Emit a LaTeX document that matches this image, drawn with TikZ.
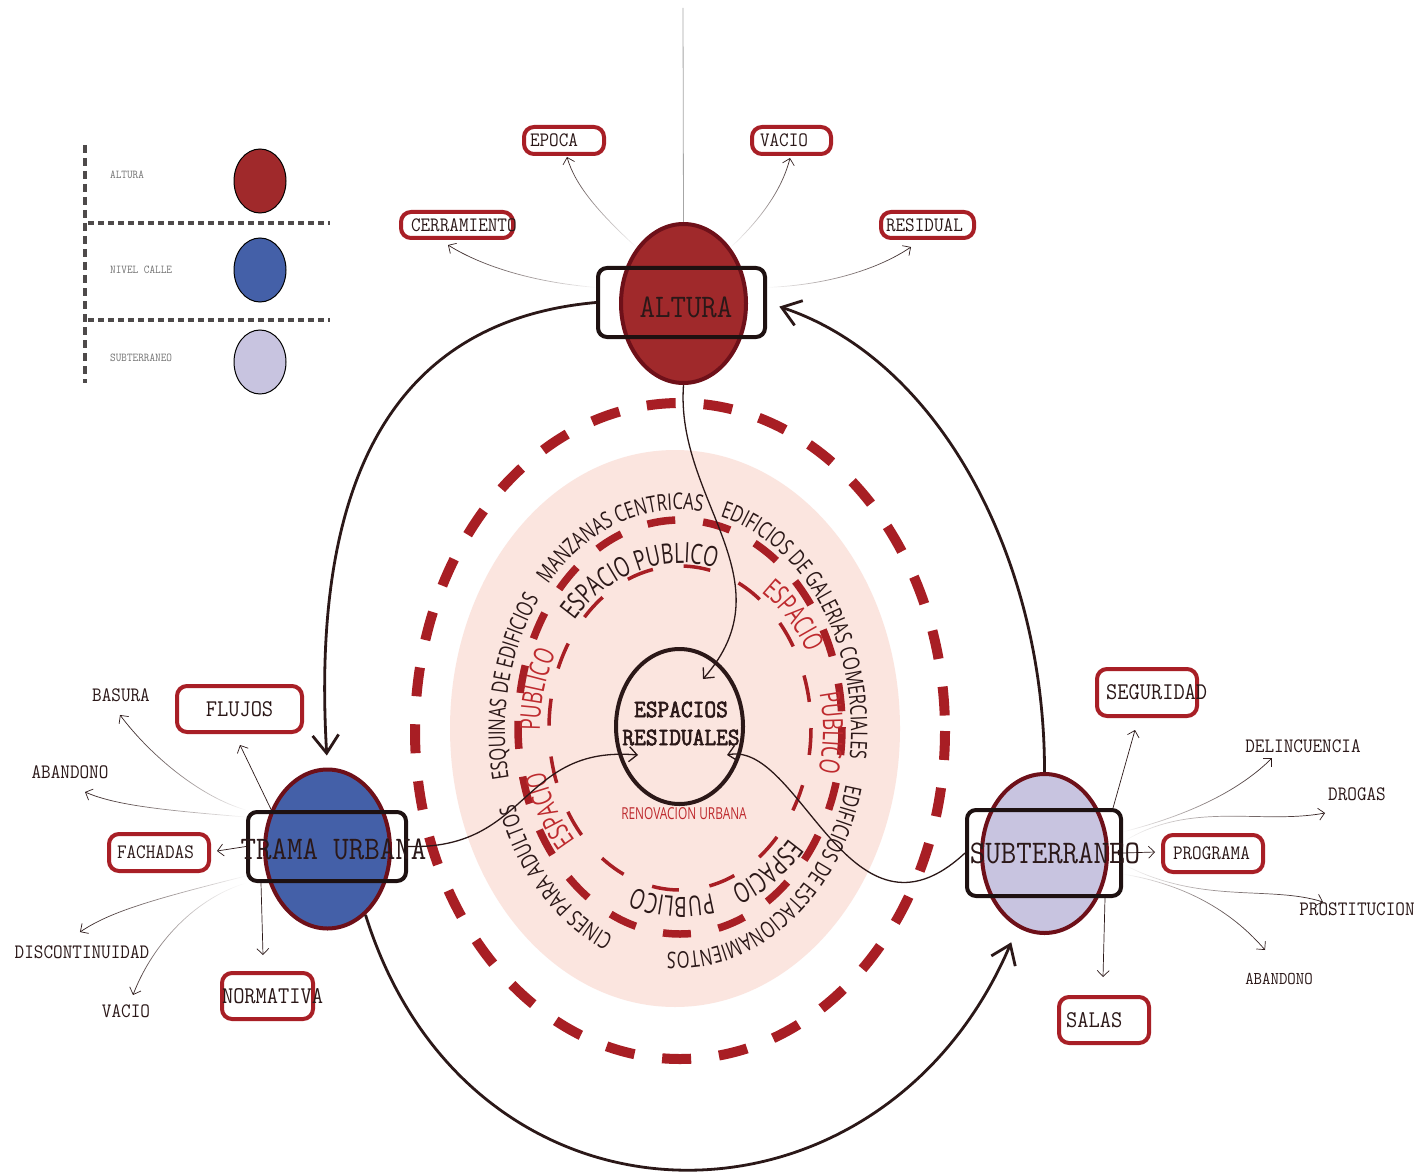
\documentclass[tikz,border=0pt]{standalone}
\usepackage{fontspec}
\usetikzlibrary{arrows.meta,shapes.geometric,decorations.text,fadings}
\newfontfamily\labelfont[FakeStretch=0.91]{Latin Modern Mono}
\newfontfamily\heavylabel[FakeStretch=0.91, FakeBold=2.5]{Latin Modern Mono}
\newfontfamily\outerfont[FakeStretch=0.72]{Open Sans}
\newfontfamily\innerfont[FakeStretch=0.68]{Open Sans}
\newcommand\outerring{\outerfont\fontsize{23}{23}\selectfont}
\newcommand\innerring{\innerfont\fontsize{28}{28}\selectfont}
\uchyph=0

\definecolor{alturared}{HTML}{A0292B}
\definecolor{rimred}{HTML}{6E1019}
\definecolor{calleblue}{HTML}{4460A8}
\definecolor{sublilac}{HTML}{C8C4E0}
\definecolor{boxred}{HTML}{A81F26}
\definecolor{ringred}{HTML}{A81E24}
\definecolor{blush}{HTML}{FBE5DF}
\definecolor{ink}{HTML}{2B1818}
\definecolor{redink}{HTML}{BE2A2E}
\definecolor{legendgray}{HTML}{4E4A4A}

\tikzset{
  levelnode/.style={ellipse, draw=rimred, line width=4pt, minimum width=125pt, minimum height=159pt, inner sep=0pt},
  levelbox/.style={draw=ink!70!black, line width=4pt, rounded corners=9pt, inner sep=0pt},
  leveltext/.style={font=\labelfont\fontsize{33}{33}\selectfont, text=ink, inner sep=0pt},
  legendnode/.style={ellipse, draw=black, line width=1pt, minimum width=52pt, minimum height=64pt, inner sep=0pt},
  legendtext/.style={anchor=west, inner sep=2pt, font=\labelfont\fontsize{12}{12}\selectfont, text=black!55},
  legenddash/.style={draw=legendgray, line width=4pt, dash pattern=on 5.5pt off 4.5pt},
  labbox/.style={draw=boxred, line width=4pt, rounded corners=10pt, fill=white, inner ysep=0pt, align=left, text=ink, font=\labelfont\fontsize{20.5}{20.5}\selectfont},
  biglab/.style={font=\labelfont\fontsize{24}{24}\selectfont},
  labtext/.style={inner sep=2pt, text=ink, font=\labelfont\fontsize{20.5}{20.5}\selectfont},
  bigarrow/.style={draw=ink, line width=2.8pt, -{Straight Barb[length=18pt,width=26pt]}},
  midarrow/.style={draw=ink, line width=1.3pt, -{Straight Barb[length=8pt,width=15pt]}},
  satarrow/.style={draw=ink, line width=0.7pt, -{Straight Barb[length=6pt,width=12pt]}},
  ringtext/.style={decorate, decoration={text along path, text align=center, text color=#1}}
}

\begin{document}
\begin{tikzpicture}[x=1pt, y=-1pt]
\fill[white] (0,0) rectangle (1418,1174);
\useasboundingbox (0,0) rectangle (1418,1174);

\draw[legenddash, dash pattern=on 8pt off 5pt] (85,145) -- (85,383);
\draw[legenddash] (88,223) -- (330,223);
\draw[legenddash] (88,320) -- (330,320);
\node[legendnode, fill=alturared] (legaltura) at (260,181) {};
\node[legendnode, fill=calleblue] (legcalle) at (260,270) {};
\node[legendnode, fill=sublilac] (legsub) at (260,362) {};
\node[legendtext] (legalturatext) at (108,175) {ALTURA};
\node[legendtext] (legcalletext) at (108,270) {NIVEL CALLE};
\node[legendtext] (legsubtext) at (108,358) {SUBTERRANEO};

\fill[blush] (675,728.5) ellipse [x radius=225, y radius=278.5];
\draw[ringred, line width=10pt, dash pattern=on 29pt off 28pt] (680,731) ellipse [x radius=265, y radius=328];
\draw[ringred, line width=7.5pt, dash pattern=on 28pt off 28pt] (680,727) ellipse [x radius=162, y radius=207];
\draw[ringred, line width=3.5pt, dash pattern=on 27pt off 31pt] (680,728) ellipse [x radius=131, y radius=162];

\path[ringtext=ink, shift={(678,731)}, decoration={text={|\outerring|MANZANAS CENTRICAS}}]
  (206:173 and 221) arc[start angle=206, end angle=296, x radius=173, y radius=221];
\path[ringtext=ink, shift={(678,731)}, decoration={text={|\outerring|EDIFICIOS DE GALERIAS COMERCIALES}}]
  (258:173 and 221) arc[start angle=258, end angle=388, x radius=173, y radius=221];
\path[ringtext=ink, shift={(678,731)}, decoration={text={|\outerring|EDIFICIOS DE ESTACIONAMIENTOS}}]
  (-4:173 and 221) arc[start angle=-4, end angle=116, x radius=173, y radius=221];
\path[ringtext=ink, shift={(678,731)}, decoration={text={|\outerring|CINES PARA ADULTOS}}]
  (89:173 and 221) arc[start angle=89, end angle=179, x radius=173, y radius=221];
\path[ringtext=ink, shift={(678,731)}, decoration={text={|\outerring|ESQUINAS DE EDIFICIOS}}]
  (148:173 and 221) arc[start angle=148, end angle=238, x radius=173, y radius=221];

\path[ringtext=ink, shift={(681.5,730)}, decoration={text={|\innerring|ESPACIO PUBLICO}}]
  (208:141.5 and 167) arc[start angle=208, end angle=298, x radius=141.5, y radius=167];
\path[ringtext=redink, shift={(681.5,730)}, decoration={text={|\innerring|ESPACIO}}]
  (287.5:141.5 and 167) arc[start angle=287.5, end angle=347.5, x radius=141.5, y radius=167];
\path[ringtext=redink, shift={(681.5,730)}, decoration={text={|\innerring|PUBLICO}}]
  (-29:141.5 and 167) arc[start angle=-29, end angle=31, x radius=141.5, y radius=167];
\path[ringtext=ink, shift={(681.5,730)}, decoration={text={|\innerring|ESPACIO}}]
  (26:141.5 and 167) arc[start angle=26, end angle=86, x radius=141.5, y radius=167];
\path[ringtext=ink, shift={(681.5,730)}, decoration={text={|\innerring|PUBLICO}}]
  (63.5:141.5 and 167) arc[start angle=63.5, end angle=123.5, x radius=141.5, y radius=167];
\path[ringtext=redink, shift={(681.5,730)}, decoration={text={|\innerring|ESPACIO}}]
  (121.5:141.5 and 167) arc[start angle=121.5, end angle=181.5, x radius=141.5, y radius=167];
\path[ringtext=redink, shift={(681.5,730)}, decoration={text={|\innerring|PUBLICO}}]
  (164:141.5 and 167) arc[start angle=164, end angle=224, x radius=141.5, y radius=167];

\node[ellipse, draw=ink, line width=4pt, minimum width=127pt, minimum height=155pt, inner sep=0pt] (espacios) at (679.5,726.5) {};
\node[font=\heavylabel\fontsize{25}{28}\selectfont, text=ink, align=center, inner sep=0pt] (espaciostext) at (681,723.5) {ESPACIOS\\RESIDUALES};
\node[font=\outerfont\fontsize{16.5}{16.5}\selectfont, text=redink, inner sep=0pt] (renovacion) at (684,814) {RENOVACION URBANA};

\node[levelnode, fill=alturared] (altura) at (683.5,303.5) {};
\node[levelbox, minimum width=167pt, minimum height=69pt] (alturabox) at (681.5,302.5) {};
\node[levelnode, fill=calleblue] (trama) at (327.5,849) {};
\node[levelbox, minimum width=158pt, minimum height=69pt] (tramabox) at (327,846.5) {};
\node[levelnode, fill=sublilac] (subt) at (1044.5,853.5) {};
\node[levelbox, minimum width=154pt, minimum height=86pt] (subtbox) at (1044,853) {};

\node[labbox, text width=68pt, inner xsep=6pt, minimum height=27pt] (epoca) at (564,140.5) {EPOCA};
\node[labbox, text width=63pt, inner xsep=8pt, minimum height=27pt] (vacion) at (791.5,140.5) {VACIO};
\node[labbox, text width=92pt, inner xsep=10pt, minimum height=26pt] (cerramiento) at (457,225) {CERRAMIENTO};
\node[labbox, text width=83pt, inner xsep=5pt, minimum height=26pt] (residual) at (927.5,225) {RESIDUAL};
\node[labbox, biglab, text width=125pt, inner xsep=0pt, minimum height=46pt, align=center] (flujos) at (239.5,709) {FLUJOS};
\node[labbox, text width=84pt, inner xsep=8pt, minimum height=37pt] (fachadas) at (159,852.5) {FACHADAS};
\node[labbox, biglab, text width=91pt, inner xsep=0pt, minimum height=46pt] (normativa) at (267.5,996) {NORMATIVA};
\node[labbox, biglab, text width=82pt, inner xsep=9pt, minimum height=47pt] (seguridad) at (1147,692.5) {SEGURIDAD};
\node[labbox, text width=80pt, inner xsep=10pt, minimum height=37pt] (programa) at (1213,853.5) {PROGRAMA};
\node[labbox, biglab, text width=76pt, inner xsep=7pt, minimum height=46pt] (salas) at (1104,1020) {SALAS};

\node[labtext] (basura) at (121,695) {BASURA};
\node[labtext] (abandonow) at (70,772) {ABANDONO};
\node[labtext] (discontinuidad) at (82,952) {DISCONTINUIDAD};
\node[labtext] (vaciow) at (126,1011) {VACIO};
\node[labtext] (delincuencia) at (1303,746) {DELINCUENCIA};
\node[labtext] (drogas) at (1357,794) {DROGAS};
\node[labtext] (prostitucion) at (1357,909) {PROSTITUCION};
\node[labtext, font=\labelfont\fontsize{18}{18}\selectfont] (abandonoe) at (1279,979) {ABANDONO};

\coordinate (topend) at (683,8);
\draw[black!35, line width=0.8pt] (topend) -- (altura.north);

\draw[bigarrow, shorten >=12pt] (alturabox.west) .. controls (400,320) and (310,470) .. (trama.north);
\draw[bigarrow, shorten >=13pt] (subt.north) .. controls (1045,560) and (940,360) .. (alturabox.east);
\draw[bigarrow, shorten >=16pt] (trama.-60) .. controls (470,1250) and (880,1250) .. (subt.-110);

\draw[midarrow] (altura.south) .. controls (675,500) and (790,580) .. ([shift={(23.5,-47.5)}]espacios.center);
\draw[midarrow] (tramabox.east) .. controls (530,850) and (520,745) .. ([shift={(-41.5,28.5)}]espacios.center);
\draw[midarrow] (subtbox.west) .. controls (850,960) and (800,740) .. ([shift={(47.5,28.5)}]espacios.center);

\draw[satarrow, path fading=south] (altura.130) .. controls (598,212) and (575,185) .. ([shift={(3,16.5)}]epoca.center);
\draw[satarrow, path fading=south] (altura.50) .. controls (760,220) and (782,190) .. ([shift={(-1.5,17.5)}]vacion.center);
\draw[satarrow, path fading=east] (alturabox.170) .. controls (530,282) and (480,265) .. ([shift={(-9,20)}]cerramiento.center);
\draw[satarrow, path fading=west] (alturabox.10) .. controls (830,285) and (880,268) .. ([shift={(-16.5,22)}]residual.center);

\draw[satarrow] (trama.145) -- ([shift={(0.5,36)}]flujos.center);
\draw[satarrow, path fading=east] (tramabox.north west) .. controls (200,797) and (150,755) .. ([shift={(-1,20)}]basura.center);
\draw[satarrow, path fading=east] (tramabox.160) .. controls (160,810) and (115,805) .. ([shift={(15,20)}]abandonow.center);
\draw[satarrow] (tramabox.west) -- ([shift={(58,-1.5)}]fachadas.center);
\draw[satarrow, path fading=east] (tramabox.200) .. controls (150,900) and (110,912) .. ([shift={(-2,-20)}]discontinuidad.center);
\draw[satarrow, path fading=north] (tramabox.south west) .. controls (190,900) and (150,950) .. ([shift={(7,-16)}]vaciow.center);
\draw[satarrow] ([xshift=15pt]tramabox.south west) -- ([shift={(-4.5,-41)}]normativa.center);

\draw[satarrow] ([xshift=-10pt]subtbox.north east) -- ([shift={(-12,37.5)}]seguridad.center);
\draw[satarrow, path fading=west] (subtbox.15) .. controls (1190,815) and (1240,790) .. ([shift={(-31,12)}]delincuencia.center);
\draw[satarrow, path fading=west] (subtbox.8) .. controls (1190,800) and (1260,825) .. ([shift={(-32,19)}]drogas.center);
\draw[satarrow] (subtbox.east) -- ([shift={(-58,-1.5)}]programa.center);
\draw[satarrow, path fading=west] (subtbox.-8) .. controls (1200,905) and (1270,885) .. ([shift={(-34,-7)}]prostitucion.center);
\draw[satarrow, path fading=west] (subtbox.-15) .. controls (1190,885) and (1235,915) .. ([shift={(-14,-29)}]abandonoe.center);
\draw[satarrow] ([xshift=-18pt]subtbox.south east) -- ([shift={(-1,-43)}]salas.center);

\node[leveltext] (alturatext) at (686,307.5) {ALTURA};
\node[leveltext] (tramatext) at (333.5,849) {TRAMA URBANA};
\node[leveltext] (subttext) at (1055,853.5) {SUBTERRANEO};
\end{tikzpicture}
\end{document}
